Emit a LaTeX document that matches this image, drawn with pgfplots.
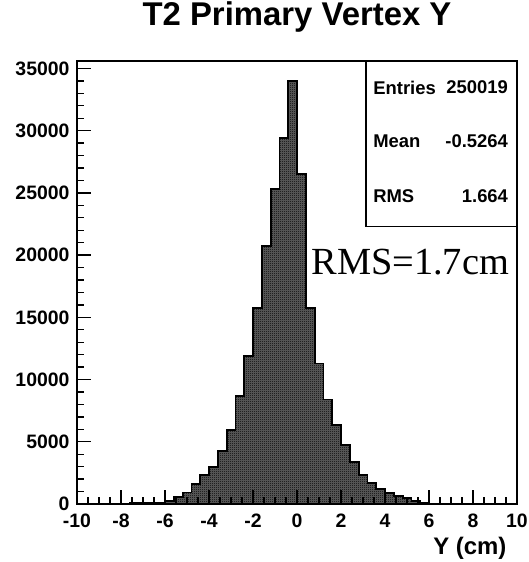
\documentclass[border=0pt]{standalone}
\usepackage{pgfplots}
\pgfplotsset{compat=1.18}
\usetikzlibrary{patterns.meta}
\usepackage{fontspec}
\setmainfont{Liberation Sans}
\newfontfamily\seriffont{Liberation Serif}

% fine checkerboard fill for the histogram body
\pgfdeclarepattern{
  name=checker,
  type=uncolored,
  bottom left={\pgfpointorigin},
  top right={\pgfpoint{2bp}{2bp}},
  tile size={\pgfpoint{2bp}{2bp}},
  code={
    \pgfpathrectangle{\pgfpointorigin}{\pgfpoint{1bp}{1bp}}
    \pgfpathrectangle{\pgfpoint{1bp}{1bp}}{\pgfpoint{1bp}{1bp}}
    \pgfusepath{fill}
  }
}

% bin left edge, entries (bin width 0.4 cm); last row closes the final bin
\pgfplotstableread{
x     n
-7.6  60
-7.2  60
-6.8  60
-6.4  60
-6.0  240
-5.6  560
-5.2  930
-4.8  1600
-4.4  2330
-4.0  3000
-3.6  4250
-3.2  5940
-2.8  8670
-2.4  11900
-2.0  15770
-1.6  20720
-1.2  25290
-0.8  29430
-0.4  34000
0.0   26520
0.4   15770
0.8   11290
1.2   8400
1.6   6340
2.0   4740
2.4   3400
2.8   2330
3.2   1710
3.6   1190
4.0   910
4.4   640
4.8   455
5.2   265
5.6   100
6.0   100
}\vtxY

\begin{document}
\begin{tikzpicture}
\begin{axis}[
  at={(0,0)}, anchor=south west,
  scale only axis,
  width=440bp, height=443bp,
  xmin=-10, xmax=10,
  ymin=0, ymax=35600,
  axis on top,
  axis line style={line width=1.6bp, black},
  tick align=inside,
  xtick pos=bottom, ytick pos=left,
  major tick length=14bp, minor tick length=7bp,
  every tick/.style={black, line width=1.4bp},
  xtick={-10,-8,...,10},
  xticklabels={-10,-8,-6,-4,-2,0,2,4,6,8,10},
  minor x tick num=3,
  ytick={0,5000,...,35000},
  yticklabels={0,5000,10000,15000,20000,25000,30000,35000},
  minor y tick num=4,
  scaled y ticks=false,
  ticklabel style={font=\bfseries\fontsize{19.5}{19.5}\selectfont},
  yticklabel style={anchor=east, xshift=-4bp},
  xticklabel style={anchor=base, yshift=-23bp},
  title={\bfseries T2 Primary Vertex Y},
  title style={at={(0.5,1)}, anchor=center, yshift=38bp,
    font=\fontsize{33}{33}\selectfont},
  xlabel={\bfseries Y (cm)},
  xlabel style={at={(axis description cs:1,0)}, anchor=east,
    xshift=-7bp, yshift=-44bp, font=\fontsize{24}{24}\selectfont},
]
\addplot[const plot, draw=black, line width=1.8bp,
  fill=black!62, postaction={pattern=checker, pattern color=black}]
  table[x=x, y=n] {\vtxY} \closedcycle;

% statistics box
\draw[line width=1.6bp, fill=white]
  (axis description cs:0.657,1) rectangle (axis description cs:1,0.626);
\begin{scope}[every node/.style={font=\bfseries\fontsize{18.5}{18.5}\selectfont, inner sep=0pt}]
\node[anchor=west] at (axis description cs:0.673,0.940) {Entries};
\node[anchor=east] at (axis description cs:0.980,0.940) {250019};
\node[anchor=west] at (axis description cs:0.673,0.819) {Mean};
\node[anchor=east] at (axis description cs:0.980,0.819) {-0.5264};
\node[anchor=west] at (axis description cs:0.673,0.694) {RMS};
\node[anchor=east] at (axis description cs:0.980,0.694) {1.664};
\end{scope}
\node[anchor=east, inner sep=0pt, font=\seriffont\fontsize{38.5}{38.5}\selectfont]
  at (axis description cs:0.982,0.546) {RMS=1.7cm};
\end{axis}
\pgfresetboundingbox
\path (-77bp,-58bp) rectangle (452bp,504bp);
\end{tikzpicture}
\end{document}
